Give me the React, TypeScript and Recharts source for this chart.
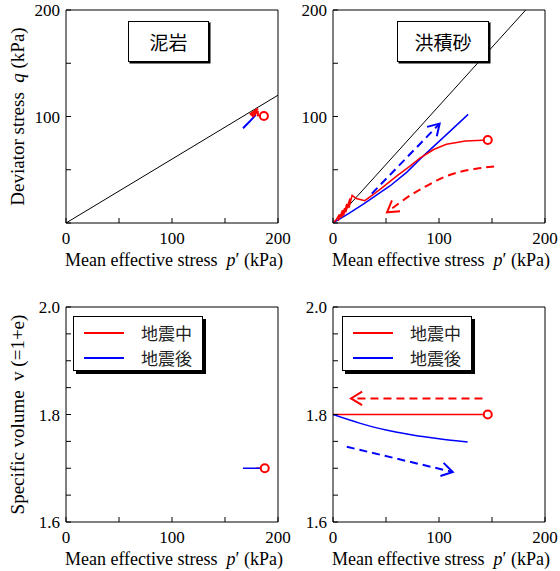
import React from 'react';
import { LineChart, Line, XAxis, YAxis, Legend } from 'recharts';

const RED = '#ff0000';
const BLUE = '#0000ff';
const SERIF = '"Liberation Serif", "Times New Roman", serif';
const CJK = '"Noto Sans CJK JP", "Noto Sans", sans-serif';

// ticks
const pTicks = [0, 50, 100, 150, 200];
const qTicks = [0, 50, 100, 150, 200];
const vTicks = [1.6, 1.65, 1.7, 1.75, 1.8, 1.85, 1.9, 1.95, 2.0];
const pLabels = [0, 100, 200];
const qLabels = [100, 200];
const vLabels = [1.6, 1.8, 2.0];

const legendItems = [
  { label: '地震中', color: RED },
  { label: '地震後', color: BLUE },
];

// 泥岩 : q - p'
const mudCsl = [{ p: 0, q: 0 }, { p: 200, q: 120 }];
const mudQDuring = [
  { p: 186.7, q: 100.5 }, { p: 181, q: 101 }, { p: 181, q: 104 }, { p: 174.5, q: 101.5 },
  { p: 180.5, q: 106 }, { p: 175, q: 100.5 }, { p: 181, q: 107.5 }, { p: 173.5, q: 102 },
  { p: 179, q: 103 }, { p: 176, q: 99.5 },
];
const mudQAfter = [{ p: 179, q: 101.5 }, { p: 173, q: 95 }, { p: 167, q: 89 }];

// 泥岩 : v - p'
const mudVDuring = [{ p: 187.5, v: 1.7 }, { p: 179, v: 1.7 }];
const mudVAfter = [{ p: 184, v: 1.7 }, { p: 167, v: 1.7 }];

// 洪積砂 : q - p'
const sandCsl = [{ p: 0, q: 0 }, { p: 181.8, q: 200 }];
const sandQDuring = [
  { p: 146, q: 78 }, { p: 125, q: 77 }, { p: 107, q: 74 }, { p: 95, q: 69 }, { p: 82, q: 61 },
  { p: 72, q: 53 }, { p: 60, q: 44 }, { p: 45, q: 32 }, { p: 30, q: 21 }, { p: 22, q: 23 },
  { p: 18, q: 26 }, { p: 15, q: 14 }, { p: 16, q: 23 }, { p: 12, q: 10 }, { p: 13, q: 18 },
  { p: 10, q: 7 }, { p: 11, q: 14 }, { p: 8, q: 5 }, { p: 9, q: 12 }, { p: 5, q: 2 },
  { p: 6, q: 8 }, { p: 3, q: 3 }, { p: 0, q: 0 },
];
const sandQAfter = [
  { p: 0, q: 0 }, { p: 15, q: 9 }, { p: 29, q: 18 }, { p: 54, q: 35 }, { p: 70, q: 48 },
  { p: 82, q: 60 }, { p: 107, q: 83 }, { p: 127.5, q: 102 },
];
const sandQArrowDuring = [
  { p: 152, q: 53 }, { p: 135, q: 51 }, { p: 116, q: 47 }, { p: 100, q: 41 },
  { p: 85, q: 33 }, { p: 70, q: 24 }, { p: 51, q: 10 },
];
const sandQArrowAfter = [{ p: 36.6, q: 27.6 }, { p: 100.6, q: 93.3 }];

// 洪積砂 : v - p'
const sandVDuring = [{ p: 146, v: 1.8 }, { p: 0, v: 1.8 }];
const sandVAfter = [
  { p: 0, v: 1.8 }, { p: 25, v: 1.784 }, { p: 50, v: 1.771 }, { p: 75, v: 1.762 },
  { p: 100, v: 1.755 }, { p: 127, v: 1.749 },
];
const sandVArrowDuring = [{ p: 141, v: 1.83 }, { p: 17, v: 1.83 }];
const sandVArrowAfter = [{ p: 13, v: 1.74 }, { p: 113, v: 1.693 }];

const W = 300;
const MARGIN = { top: 9, right: 21, bottom: 7, left: 16 };
const tickStyle = { fontSize: 17, fontFamily: SERIF, fill: '#000' };

const fmtP = (v: number) => (pLabels.includes(v) ? String(v) : '');
const fmtQ = (v: number) => (qLabels.includes(v) ? String(v) : '');
const fmtV = (v: number) => (vLabels.some((l) => Math.abs(l - v) < 1e-6) ? v.toFixed(1) : '');

const XTitle = (props: any) => {
  const vb = props.viewBox || { x: 66, y: 223, width: 212 };
  return (
    <text x={vb.x + vb.width / 2 + 2} y={vb.y + 43} textAnchor="middle" fontFamily={SERIF} fontSize={18} fill="#000">
      Mean effective stress{'\u00a0\u00a0'}
      <tspan fontStyle="italic">p</tspan>′ (kPa)
    </text>
  );
};

const makeYTitle = (mode: 'q' | 'v') => (props: any) => {
  const vb = props.viewBox || { x: 16, y: 10, height: 213 };
  const x = vb.x + 8;
  const y = vb.y + vb.height / 2;
  return (
    <text x={x} y={y} transform={`rotate(-90, ${x}, ${y})`} textAnchor="middle" fontFamily={SERIF} fontSize={19} fill="#000">
      {mode === 'q' ? (
        <>
          Deviator stress{'\u00a0\u00a0'}
          <tspan fontStyle="italic">q</tspan> (kPa)
        </>
      ) : (
        <>Specific volume{'\u00a0\u00a0'}v (=1+e)</>
      )}
    </text>
  );
};

// open circle on the first point (initial state)
const startCircle = (props: any) =>
  props.index === 0 ? (
    <circle key={props.key} cx={props.cx} cy={props.cy} r={4} stroke={RED} strokeWidth={2} fill="#fff" />
  ) : (
    <g key={props.key} />
  );

// open arrow head on the last point
const arrowHead = (color: string, n: number) => (props: any) => {
  const { index, cx, cy, points } = props;
  if (index !== n - 1 || !points || index < 1) return <g key={props.key} />;
  const prev = points[index - 1];
  const ang = Math.atan2(cy - prev.y, cx - prev.x);
  const len = 13;
  const s = 0.55;
  const a1 = ang + Math.PI - s;
  const a2 = ang + Math.PI + s;
  const pts = `${cx + len * Math.cos(a1)},${cy + len * Math.sin(a1)} ${cx},${cy} ${cx + len * Math.cos(a2)},${cy + len * Math.sin(a2)}`;
  return <polyline key={props.key} points={pts} fill="none" stroke={color} strokeWidth={2} strokeDasharray="none" />;
};

const solid = (data: any[], key: string, color: string, width: number, circle = false, type: any = 'linear') => (
  <Line
    data={data}
    dataKey={key}
    type={type}
    stroke={color}
    strokeWidth={width}
    dot={circle ? startCircle : false}
    legendType="none"
    isAnimationActive={false}
  />
);

const dashed = (data: any[], key: string, color: string, type: any = 'linear') => (
  <Line
    data={data}
    dataKey={key}
    type={type}
    stroke={color}
    strokeWidth={2}
    strokeDasharray="8 5"
    dot={arrowHead(color, data.length)}
    legendType="none"
    isAnimationActive={false}
  />
);

const LegendBox = () => (
  <div
    style={{
      width: 130,
      height: 55,
      boxSizing: 'border-box',
      border: '1.5px solid #000',
      boxShadow: '3px 3px 0 #000',
      background: '#fff',
      position: 'relative',
    }}
  >
    {legendItems.map((it, i) => (
      <div key={it.label} style={{ position: 'absolute', left: 0, top: 3 + i * 25, height: 25, display: 'flex', alignItems: 'center' }}>
        <div style={{ marginLeft: 10, width: 40, height: 2, background: it.color }} />
        <span style={{ marginLeft: 17, fontFamily: CJK, fontSize: 17, color: '#222', lineHeight: '25px' }}>{it.label}</span>
      </div>
    ))}
  </div>
);

interface PanelProps {
  left: number;
  top: number;
  height: number;
  mode: 'q' | 'v';
  yTitle?: boolean;
  title?: { text: string; x: number; y: number; w: number };
  legendAt?: { x: number; y: number };
  children: React.ReactNode;
}

const Panel: React.FC<PanelProps> = ({ left, top, height, mode, yTitle, title, legendAt, children }) => {
  const yDomain = mode === 'q' ? [0, 200] : [1.6, 2.0];
  const yTicks = mode === 'q' ? qTicks : vTicks;
  const fmtY = mode === 'q' ? fmtQ : fmtV;
  return (
    <div style={{ position: 'absolute', left, top, width: W, height }}>
      <LineChart width={W} height={height} margin={MARGIN}>
        <XAxis
          type="number"
          dataKey="p"
          domain={[0, 200]}
          ticks={pTicks}
          interval={0}
          allowDataOverflow
          height={60}
          tickSize={-5}
          tickMargin={14}
          tick={tickStyle}
          tickFormatter={fmtP}
          axisLine={{ stroke: '#000' }}
          tickLine={{ stroke: '#000' }}
          label={XTitle}
        />
        <XAxis
          xAxisId="top"
          orientation="top"
          type="number"
          dataKey="p"
          domain={[0, 200]}
          ticks={pTicks}
          interval={0}
          allowDataOverflow
          height={1}
          tickSize={-5}
          tick={false}
          axisLine={{ stroke: '#000' }}
          tickLine={{ stroke: '#000' }}
        />
        <YAxis
          type="number"
          dataKey={mode}
          domain={yDomain}
          ticks={yTicks}
          interval={0}
          allowDataOverflow
          width={50}
          tickSize={-5}
          tickMargin={11}
          tick={tickStyle}
          tickFormatter={fmtY}
          axisLine={{ stroke: '#000' }}
          tickLine={{ stroke: '#000' }}
          label={yTitle ? makeYTitle(mode) : undefined}
        />
        <YAxis
          yAxisId="right"
          orientation="right"
          type="number"
          dataKey={mode}
          domain={yDomain}
          ticks={yTicks}
          interval={0}
          allowDataOverflow
          width={1}
          tickSize={-5}
          tick={false}
          axisLine={{ stroke: '#000' }}
          tickLine={{ stroke: '#000' }}
        />
        {legendAt && (
          <Legend
            layout="vertical"
            align="center"
            verticalAlign="middle"
            wrapperStyle={{ left: legendAt.x, top: legendAt.y, width: 134, height: 59 }}
            content={() => <LegendBox />}
          />
        )}
        {children}
      </LineChart>
      {title && (
        <div
          style={{
            position: 'absolute',
            left: title.x,
            top: title.y,
            width: title.w,
            height: 41,
            boxSizing: 'border-box',
            border: '1.5px solid #000',
            boxShadow: '1.5px 1.5px 0 #000',
            background: '#fff',
            display: 'flex',
            alignItems: 'center',
            justifyContent: 'center',
            fontFamily: CJK,
            fontSize: 19,
            color: '#000',
          }}
        >
          {title.text}
        </div>
      )}
    </div>
  );
};

export default function App() {
  return (
    <div style={{ position: 'absolute', left: 0, top: 0, width: 560, height: 571, overflow: 'hidden', background: '#fff' }}>
      <Panel left={0} top={0} height={290} mode="q" yTitle title={{ text: '泥岩', x: 128, y: 21, w: 81 }}>
        {solid(mudCsl, 'q', '#000', 1)}
        {solid(mudQAfter, 'q', BLUE, 2)}
        {solid(mudQDuring, 'q', RED, 2, true)}
      </Panel>
      <Panel left={267} top={0} height={290} mode="q" title={{ text: '洪積砂', x: 130, y: 21, w: 92 }}>
        {solid(sandCsl, 'q', '#000', 1)}
        {solid(sandQAfter, 'q', BLUE, 1.5)}
        {solid(sandQDuring, 'q', RED, 1.5, true)}
        {dashed(sandQArrowDuring, 'q', RED, 'natural')}
        {dashed(sandQArrowAfter, 'q', BLUE)}
      </Panel>
      <Panel left={0} top={297} height={292} mode="v" yTitle legendAt={{ x: 73, y: 19 }}>
        {solid(mudVDuring, 'v', RED, 1.5, true)}
        {solid(mudVAfter, 'v', BLUE, 1.5)}
      </Panel>
      <Panel left={267} top={297} height={292} mode="v" legendAt={{ x: 75, y: 19 }}>
        {solid(sandVDuring, 'v', RED, 1.5, true)}
        {solid(sandVAfter, 'v', BLUE, 1.5, false, 'monotone')}
        {dashed(sandVArrowDuring, 'v', RED)}
        {dashed(sandVArrowAfter, 'v', BLUE)}
      </Panel>
    </div>
  );
}
